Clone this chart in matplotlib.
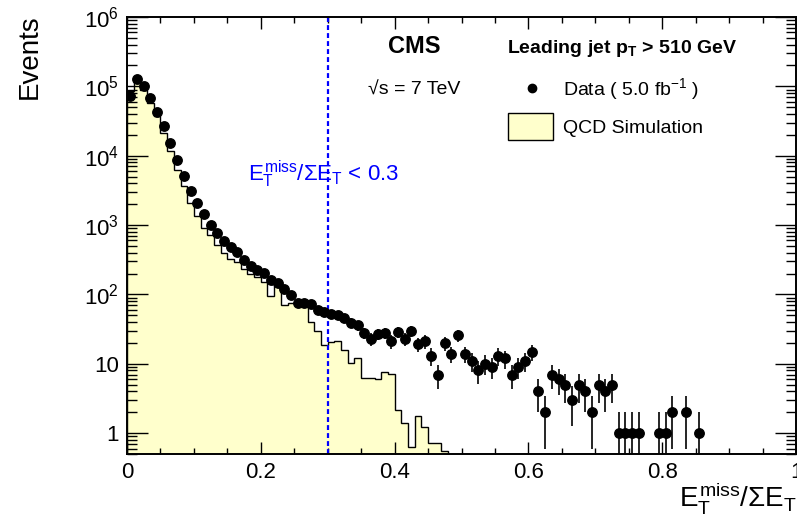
import numpy as np
import matplotlib
matplotlib.use("Agg")
import matplotlib.pyplot as plt
from matplotlib.ticker import MultipleLocator, LogLocator, FuncFormatter
from matplotlib.lines import Line2D
from matplotlib.patches import Rectangle

plt.rcParams['font.family'] = ['Liberation Sans', 'DejaVu Sans']
plt.rcParams['mathtext.fontset'] = 'custom'
plt.rcParams['mathtext.rm'] = 'Liberation Sans'
plt.rcParams['mathtext.it'] = 'Liberation Sans'
plt.rcParams['mathtext.bf'] = 'Liberation Sans:bold'

bin_width = 0.01

# data counts per bin (bins of 0.01 starting at 0)
data_counts = [73000, 128000, 102000, 67600, 42500, 26400, 15200, 8760, 5150, 3060,
               2085, 1450, 1016, 772, 598, 485, 411, 310, 261, 224,
               201, 164, 144, 121, 97, 76, 74, 72, 60, 56,
               52, 50, 46, 39, 36, 28, 23, 27, 28, 21,
               29, 23, 30, 19, 21, 13, 7, 20, 14, 26,
               14, 11, 8, 10, 9, 13, 12, 7, 9, 11,
               15, 4, 2, 7, 6, 5, 3, 5, 4, 2,
               5, 4, 5, 1, 1, 1, 1, 0, 0, 1,
               1, 2, 0, 2, 0, 1]

# QCD simulation (weighted) per bin
qcd_sim = [85000, 118000, 90000, 57000, 36800, 21200, 11800, 6300, 3620, 2100,
           1370, 910, 720, 520, 400, 320, 290, 230, 194, 180,
           150, 94, 135, 70, 75, 74, 68, 40, 30, 18.6,
           20.6, 21.3, 15.6, 10.4, 12.0, 6.3, 6.2, 6.0, 7.6, 7.1,
           2.14, 1.39, 0.64, 1.74, 1.21, 0.73, 0.73, 0.55]

cut_value = 0.3

W, H = 797, 524


def fx(px):
    return px / W


def fy(py):
    return 1 - py / H


def log_label(v, pos):
    e = int(round(np.log10(v)))
    if e == 0:
        return '1'
    if e == 1:
        return '10'
    return r'$10^{%d}$' % e


def main():
    fig = plt.figure(figsize=(W / 100, H / 100), dpi=100)
    ax = fig.add_axes([fx(127), fy(454), (796 - 127) / W, (454 - 17) / H])

    sim = np.array(qcd_sim)
    edges = np.arange(len(sim) + 1) * bin_width
    ax.stairs(sim, edges, fill=True, color='#ffffcc', baseline=0.01, zorder=1)
    ax.stairs(sim, edges, color='black', lw=1.0, baseline=0.01, zorder=2)

    ax.axvline(cut_value, color='#0000ff', lw=1.6, ls=(0, (2.2, 1.4)), zorder=2.5)

    n = np.array(data_counts, dtype=float)
    centers = (np.arange(len(n)) + 0.5) * bin_width
    m = n > 0
    err = np.sqrt(n[m])
    lo = np.minimum(err, n[m] - 0.01)
    ax.errorbar(centers[m], n[m], yerr=[lo, err], fmt='o', color='black',
                ms=6.8, elinewidth=1.2, capsize=0, zorder=3)

    ax.set_yscale('log')
    ax.set_xlim(0, 1)
    ax.set_ylim(0.5, 1e6)

    ax.xaxis.set_major_locator(MultipleLocator(0.2))
    ax.xaxis.set_minor_locator(MultipleLocator(0.05))
    ax.xaxis.set_major_formatter(FuncFormatter(lambda v, p: '%g' % v))
    ax.yaxis.set_major_locator(LogLocator(base=10, numticks=12))
    ax.yaxis.set_minor_locator(LogLocator(base=10, subs=np.arange(2, 10), numticks=12))
    ax.yaxis.set_major_formatter(FuncFormatter(log_label))

    ax.tick_params(which='both', direction='in', top=True, right=True,
                   labelsize=16, width=1, pad=6)
    ax.tick_params(axis='y', which='major', length=15)
    ax.tick_params(axis='y', which='minor', length=7.5)
    ax.tick_params(axis='x', which='major', length=8.5)
    ax.tick_params(axis='x', which='minor', length=4.3)
    for s in ax.spines.values():
        s.set_linewidth(1.4)

    fig.text(fx(30), fy(14), 'Events', rotation=90, ha='center', va='top', fontsize=20)
    fig.text(fx(797), fy(506), r'$E_{T}^{miss}/\Sigma E_{T}$', ha='right',
             va='baseline', fontsize=20)

    fig.text(fx(414), fy(53), 'CMS', ha='center', va='baseline', fontsize=17,
             fontweight='bold')
    fig.text(fx(507), fy(53), r'Leading jet p$_{\mathbf{T}}$ > 510 GeV', ha='left',
             va='baseline', fontsize=14, fontweight='bold')
    fig.text(fx(368), fy(95), '\u221as = 7 TeV', ha='left', va='baseline',
             fontsize=14)
    fig.add_artist(Line2D([fx(532)], [fy(88)], marker='o', color='black', ms=6,
                          transform=fig.transFigure))
    fig.text(fx(563), fy(95), r'Data ( 5.0 fb$^{-1}$ )', ha='left', va='baseline',
             fontsize=14)
    fig.add_artist(Rectangle((fx(508), fy(140)), (553 - 508) / W, (140 - 113) / H,
                             facecolor='#ffffcc', edgecolor='black', lw=1,
                             transform=fig.transFigure))
    fig.text(fx(563), fy(133), 'QCD Simulation', ha='left', va='baseline', fontsize=14)

    fig.text(fx(248), fy(181), r'$E_{T}^{miss}/\Sigma E_{T}$ < 0.3', color='#0000ff',
             fontsize=16, ha='left', va='baseline')

    fig.savefig('out.png', dpi=100)


if __name__ == "__main__":
    main()
